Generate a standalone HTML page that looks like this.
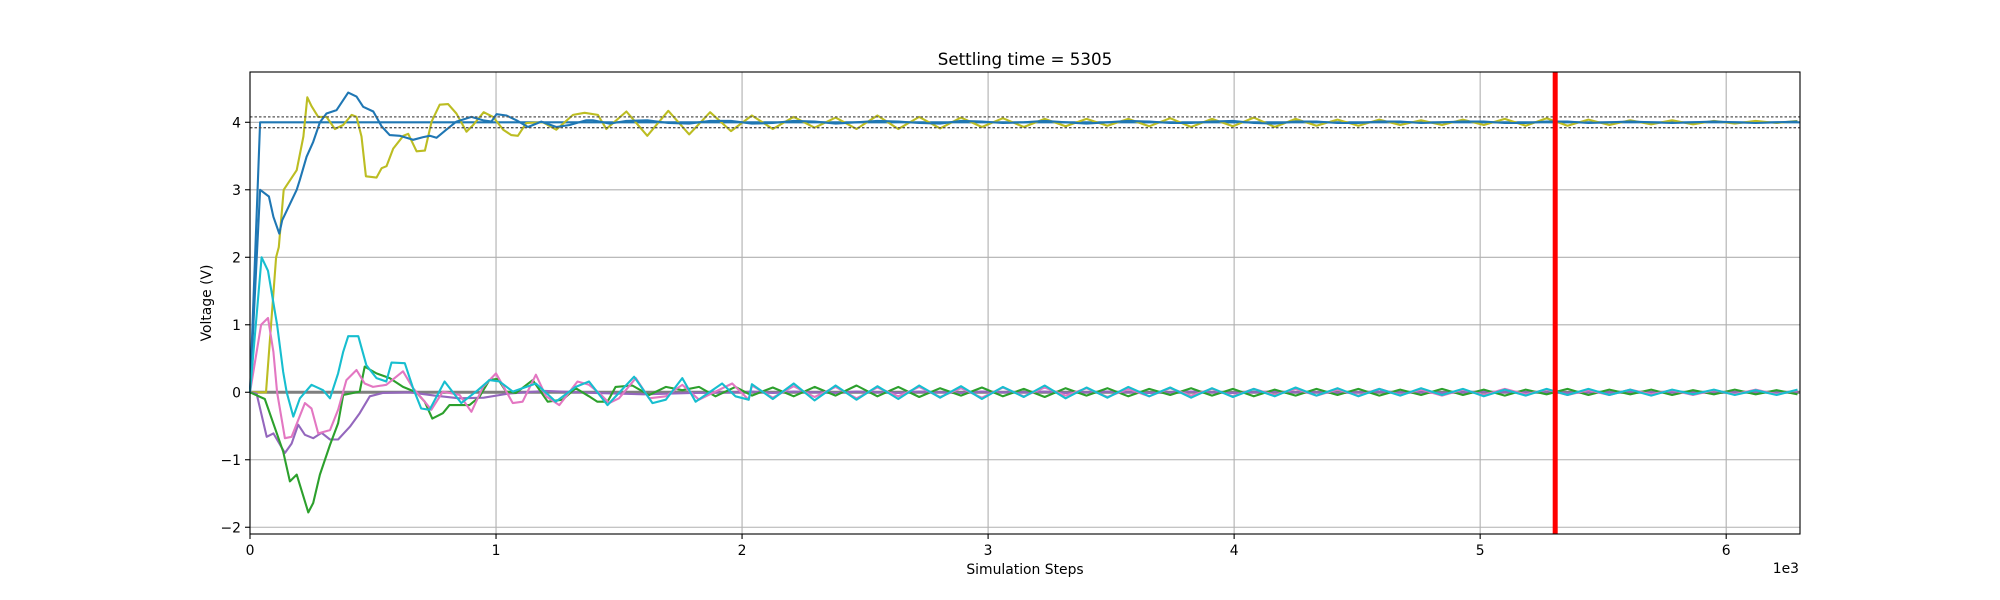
<!DOCTYPE html>
<html><head><meta charset="utf-8">
<style>
html,body{margin:0;padding:0;background:#fff;}
svg{display:block;font-family:"DejaVu Sans","Liberation Sans",sans-serif;}
</style></head>
<body>
<svg id="chart" width="2000" height="600" viewBox="0 0 2000 600" xmlns="http://www.w3.org/2000/svg">
<rect width="2000" height="600" fill="#fff"/>
<g id="grid"></g>
<g id="series"></g>
<g id="axes"></g>
<text x="1025" y="65" font-size="16.7" text-anchor="middle">Settling time = 5305</text>
<text x="1025" y="574" font-size="13.9" text-anchor="middle">Simulation Steps</text>
<text x="0" y="0" font-size="13.9" text-anchor="middle" transform="translate(211,303) rotate(-90)">Voltage (V)</text>
<text x="1799" y="573" font-size="13.9" text-anchor="end">1e3</text>
</svg>
<script>
const xTicks = [0,1000,2000,3000,4000,5000,6000];
const xTickLabels = ["0","1","2","3","4","5","6"];
const yTicks = [-2,-1,0,1,2,3,4];
const yTickLabels = ["−2","−1","0","1","2","3","4"];
const settlingStep = 5305;
const targetVolt = 4;
const bandUpper = 4.08;
const bandLower = 3.92;

const lateSteps = [1530,1615,1700,1785,1870,1955,2040,2125,2210,2295,2380,2465,2550,2635,2720,2805,2890,2975,3060,3145,3230,3315,3400,3485,3570,3655,3740,3825,3910,3995,4080,4165,4250,4335,4420,4505,4590,4675,4760,4845,4930,5015,5100,5185,5270,5355,5440,5525,5610,5695,5780,5865,5950,6035,6120,6205,6290];

const blueSteps = [0,41,77,95,119,131,190,203,230,257,284,311,352,399,433,460,501,535,568,609,663,704,731,758,798,839,900,947,981,1002,1042,1083,1130,1184,1245,1299,1367,1394,1462];
const blueVolts = [0,3.0,2.9,2.6,2.35,2.55,3.0,3.15,3.49,3.71,4.0,4.13,4.18,4.44,4.38,4.23,4.16,3.94,3.81,3.8,3.74,3.78,3.8,3.77,3.89,4.01,4.08,4.03,4.01,4.12,4.1,4.03,3.93,4.01,3.93,3.96,4.03,4.03,3.98];
const blueLate = [4.02,4.03,3.99,3.98,4.02,4.02,3.98,3.99,4.02,4.01,3.98,4.0,4.02,4.01,3.99,3.98,4.02,4.01,3.99,4.0,4.02,4.0,3.98,4.0,4.02,4.01,3.99,3.99,4.01,4.02,3.99,3.98,4.01,4.01,3.99,3.99,4.01,4.01,3.99,4.0,4.01,4.01,3.99,3.99,4.01,4.01,3.99,4.0,4.01,4.0,3.99,4.0,4.01,4.0,3.99,4.0,4.01];

const oliveSteps = [0,65,106,117,137,190,217,233,250,277,311,345,379,413,433,453,471,514,535,555,582,623,643,677,711,738,771,805,839,880,907,950,988,1029,1062,1089,1123,1191,1245,1313,1360,1414,1448];
const oliveVolts = [0,0,2.0,2.15,3.0,3.29,3.79,4.37,4.24,4.08,4.08,3.9,3.96,4.11,4.08,3.79,3.2,3.18,3.32,3.35,3.61,3.8,3.83,3.57,3.58,4.01,4.26,4.27,4.13,3.86,3.96,4.15,4.08,3.89,3.81,3.8,3.99,4.0,3.89,4.11,4.14,4.11,3.9];
const oliveLate = [4.16,3.8,4.17,3.82,4.15,3.87,4.1,3.9,4.08,3.92,4.07,3.9,4.1,3.9,4.08,3.91,4.07,3.93,4.06,3.93,4.05,3.94,4.05,3.95,4.05,3.94,4.06,3.93,4.05,3.94,4.07,3.93,4.05,3.95,4.04,3.95,4.04,3.96,4.03,3.96,4.04,3.96,4.05,3.95,4.06,3.95,4.04,3.96,4.03,3.97,4.03,3.97,4.02,3.98,4.02,3.99,4.02];

const greenSteps = [0,60,135,162,190,237,257,284,325,358,379,446,466,514,568,622,676,710,741,784,811,892,932,973,1007,1041,1081,1149,1210,1270,1324,1378,1412,1453,1486,1554,1622,1690,1757,1825,1892,1973];
const greenVolts = [0,-0.1,-0.88,-1.32,-1.22,-1.78,-1.64,-1.22,-0.78,-0.46,-0.04,0.01,0.38,0.28,0.21,0.08,0,-0.14,-0.39,-0.31,-0.19,-0.19,-0.07,0.18,0.2,0.01,-0.01,0.18,-0.14,-0.11,0.06,-0.06,-0.14,-0.14,0.08,0.1,-0.04,0.08,0.03,0.08,-0.06,0.08];
const greenLate = [-0.05,0.07,-0.06,0.08,-0.05,0.1,-0.06,0.08,-0.07,0.06,-0.05,0.07,-0.06,0.05,-0.07,0.06,-0.05,0.06,-0.06,0.05,-0.04,0.06,-0.05,0.05,-0.06,0.04,-0.05,0.05,-0.04,0.05,-0.05,0.04,-0.04,0.05,-0.04,0.04,-0.05,0.04,-0.03,0.05,-0.04,0.04,-0.03,0.04,-0.04,0.03,-0.03,0.04,-0.03,0.03,-0.03];

const purpleSteps = [0,27,68,95,142,169,196,223,257,291,325,358,406,446,487,541,650,750,850,950,1050,1200,1400,1600,1800,2000];
const purpleVolts = [0,-0.02,-0.66,-0.61,-0.9,-0.76,-0.48,-0.63,-0.68,-0.6,-0.7,-0.7,-0.51,-0.31,-0.06,-0.01,0.0,-0.05,-0.09,-0.08,-0.02,0.02,-0.01,-0.03,-0.01,0.0];
const purpleLate = [0.01,-0.01,0.01,0.0,-0.01,0.01,0.0,-0.01,0.01,0.0,-0.01,0.01,0.0,0.0,0.01,-0.01,0.0,0.01,0.0,-0.01,0.0,0.01,0.0,-0.01,0.0,0.01,0.0,0.0,-0.01,0.0,0.01,0.0,0.0,-0.01,0.0,0.01,0.0,0.0,0.0,-0.01,0.0,0.0,0.01,0.0,0.0,0.0,-0.01,0.0,0.0,0.0,0.0];

const pinkSteps = [0,45,73,95,110,142,169,223,250,277,325,358,392,433,466,500,554,622,663,710,737,784,852,900,947,1000,1034,1068,1108,1162,1203,1257,1331,1378,1419,1460,1500,1568,1622,1690,1757,1825,1892,1960,2027];
const pinkVolts = [0,1.0,1.1,0.6,0.0,-0.68,-0.66,-0.16,-0.24,-0.61,-0.56,-0.26,0.18,0.33,0.13,0.08,0.11,0.31,0.06,-0.14,-0.26,0.01,-0.04,-0.29,0.08,0.28,0.06,-0.16,-0.14,0.26,-0.06,-0.19,0.16,0.11,-0.01,-0.16,-0.09,0.21,-0.09,-0.06,0.11,-0.11,0.01,0.13,-0.11];
const pinkLate = [0.1,-0.08,0.09,-0.07,0.08,-0.09,0.07,-0.06,0.08,-0.07,0.06,-0.08,0.07,-0.06,0.07,-0.05,0.06,-0.07,0.05,-0.06,0.06,-0.05,0.05,-0.06,0.05,-0.04,0.05,-0.05,0.04,-0.05,0.05,-0.04,0.04,-0.05,0.04,-0.04,0.05,-0.03,0.04,-0.04,0.03,-0.04,0.04,-0.03,0.03,-0.04,0.03,-0.03,0.04,-0.03,0.03];

const cyanSteps = [0,47,73,110,135,149,176,203,250,297,325,358,379,399,440,473,514,554,575,629,663,696,730,791,859,926,973,1014,1068,1162,1243,1324,1378,1453,1561,1636,1690,1757,1811,1919,1973,2027];
const cyanVolts = [0,2.0,1.8,1.0,0.3,0.0,-0.36,-0.09,0.11,0.03,-0.09,0.28,0.6,0.83,0.83,0.4,0.21,0.16,0.44,0.43,0.06,-0.24,-0.26,0.16,-0.16,0.03,0.18,0.16,0.01,0.13,-0.14,0.08,0.16,-0.19,0.23,-0.16,-0.11,0.21,-0.14,0.13,-0.06,-0.11];
const cyanLate = [0.12,-0.1,0.13,-0.12,0.1,-0.11,0.09,-0.1,0.1,-0.08,0.09,-0.1,0.08,-0.07,0.1,-0.09,0.07,-0.08,0.08,-0.06,0.07,-0.08,0.06,-0.07,0.05,-0.06,0.07,-0.05,0.06,-0.06,0.05,-0.05,0.06,-0.04,0.05,-0.06,0.04,-0.05,0.05,-0.04,0.05,-0.04,0.04,-0.05,0.04,-0.03,0.04,-0.04,0.03,-0.04,0.04];

const targetSteps = [0,41,6300];
const targetVolts = [0,4,4];
const zeroSteps = [0,6300];
const zeroVolts = [0,0];

const X0=250, X1=1800, Y0=72, Y1=534, XMAX=6300, YMIN=-2.1, YMAX=4.745;
function sx(v){return X0+(v/XMAX)*(X1-X0);}
function sy(v){return Y1-(v-YMIN)/(YMAX-YMIN)*(Y1-Y0);}
const NS="http://www.w3.org/2000/svg";
function mk(tag,attrs,parent){const e=document.createElementNS(NS,tag);for(const k in attrs)e.setAttribute(k,attrs[k]);parent.appendChild(e);return e;}
const grid=document.getElementById('grid'), ser=document.getElementById('series'), axes=document.getElementById('axes');

xTicks.forEach((t,i)=>{
  const g=mk('line',{x1:sx(t),x2:sx(t),y1:Y0,y2:Y1,stroke:'#b0b0b0','stroke-width':1.1},grid);
  
  
  const tk=mk('line',{x1:sx(t),x2:sx(t),y1:Y1,y2:Y1+5,stroke:'#000','stroke-width':1.1},axes);
  
  
  const lb=mk('text',{x:sx(t),y:Y1+21,'font-size':13.9,'text-anchor':'middle'},axes);
  lb.textContent=xTickLabels[i];
  
  
});
yTicks.forEach((t,i)=>{
  const g=mk('line',{x1:X0,x2:X1,y1:sy(t),y2:sy(t),stroke:'#b0b0b0','stroke-width':1.1},grid);
  
  
  const tk=mk('line',{x1:X0-5,x2:X0,y1:sy(t),y2:sy(t),stroke:'#000','stroke-width':1.1},axes);
  
  
  const lb=mk('text',{x:X0-9,y:sy(t)+5,'font-size':13.9,'text-anchor':'end'},axes);
  lb.textContent=yTickLabels[i];
  
  
});

function merge(steps,vals,late){
  const pts=steps.map((s,i)=>[s,vals[i]]);
  if(late){const off=lateSteps.length-late.length;const last=steps[steps.length-1];
    late.forEach((v,i)=>{const s=lateSteps[off+i];if(s>last)pts.push([s,v]);});}
  return pts;
}
function line(pts,color,w,name,dash){
  const d=pts.map((p,i)=>(i?'L':'M')+sx(p[0]).toFixed(1)+' '+sy(p[1]).toFixed(1)).join(' ');
  const p=mk('path',{d:d,fill:'none',stroke:color,'stroke-width':w,'stroke-linejoin':'round'},ser);
  if(dash)p.setAttribute('stroke-dasharray',dash);
  
  
}
line(merge(zeroSteps,zeroVolts),'#7f7f7f',3,'zero-reference-line');
line(merge(targetSteps,targetVolts),'#1f77b4',2.1,'target-reference-line');
line(merge(oliveSteps,oliveVolts,oliveLate),'#bcbd22',2.1,'olive-series');
line(merge(blueSteps,blueVolts,blueLate),'#1f77b4',2.1,'blue-series');
line(merge(purpleSteps,purpleVolts,purpleLate),'#9467bd',2.1,'purple-series');
line(merge(greenSteps,greenVolts,greenLate),'#2ca02c',2.1,'green-series');
line(merge(pinkSteps,pinkVolts,pinkLate),'#e377c2',2.1,'pink-series');
line(merge(cyanSteps,cyanVolts,cyanLate),'#17becf',2.1,'cyan-series');
line([[0,bandUpper],[XMAX,bandUpper]],'#555',1.3,'upper-band-line','2.5,2');
line([[0,bandLower],[XMAX,bandLower]],'#555',1.3,'lower-band-line','2.5,2');

const red=mk('line',{x1:sx(settlingStep),x2:sx(settlingStep),y1:Y0,y2:Y1,stroke:'#ff0000','stroke-width':5},ser);



const frame=mk('rect',{x:X0,y:Y0,width:X1-X0,height:Y1-Y0,fill:'none',stroke:'#000','stroke-width':1.1},axes);


</script>
</body></html>
